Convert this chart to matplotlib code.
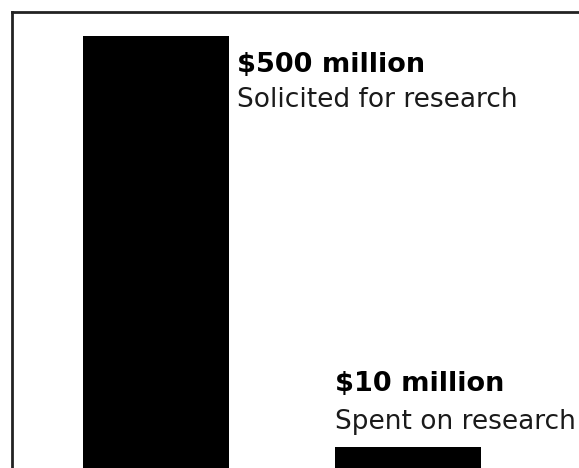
import matplotlib
matplotlib.use("Agg")
import matplotlib.pyplot as plt

categories = ["Solicited for research", "Spent on research"]
values = [500, 10]
headings = ["$500 million", "$10 million"]

floor = -15  # the graphic is cropped below zero

fig = plt.figure(figsize=(5.79, 4.68), dpi=100)
ax = fig.add_axes([11.5 / 579, 0, 1.0, (468 - 11.5) / 468])

x = [0, 1]
bar_w = 0.578
ax.bar(x, [v - floor for v in values], bottom=floor, width=bar_w, color="black")

ax.set_xlim(-0.572, -0.572 + 1.0 * 579 / 252.5)
ax.set_ylim(floor, 528.6)

for s in ["right", "bottom"]:
    ax.spines[s].set_visible(False)
for s in ["top", "left"]:
    ax.spines[s].set_linewidth(2)
    ax.spines[s].set_color("#222222")
ax.set_xticks([])
ax.set_yticks([])

head_kw = dict(fontsize=19.5, fontweight="bold", ha="left", va="baseline",
               textcoords="offset pixels")
sub_kw = dict(fontsize=19, ha="left", va="baseline", color="#1a1a1a",
              textcoords="offset pixels")

# big bar: labels to the right, hanging from the top
ax.annotate(headings[0], xy=(x[0] + bar_w / 2, values[0]), xytext=(8, -36), **head_kw)
ax.annotate(categories[0], xy=(x[0] + bar_w / 2, values[0]), xytext=(8, -71), **sub_kw)

# small bar: labels stacked above it
ax.annotate(headings[1], xy=(x[1] - bar_w / 2, values[1]), xytext=(0, 56), **head_kw)
ax.annotate(categories[1], xy=(x[1] - bar_w / 2, values[1]), xytext=(0, 18), **sub_kw)

fig.savefig("out.png", dpi=100)
